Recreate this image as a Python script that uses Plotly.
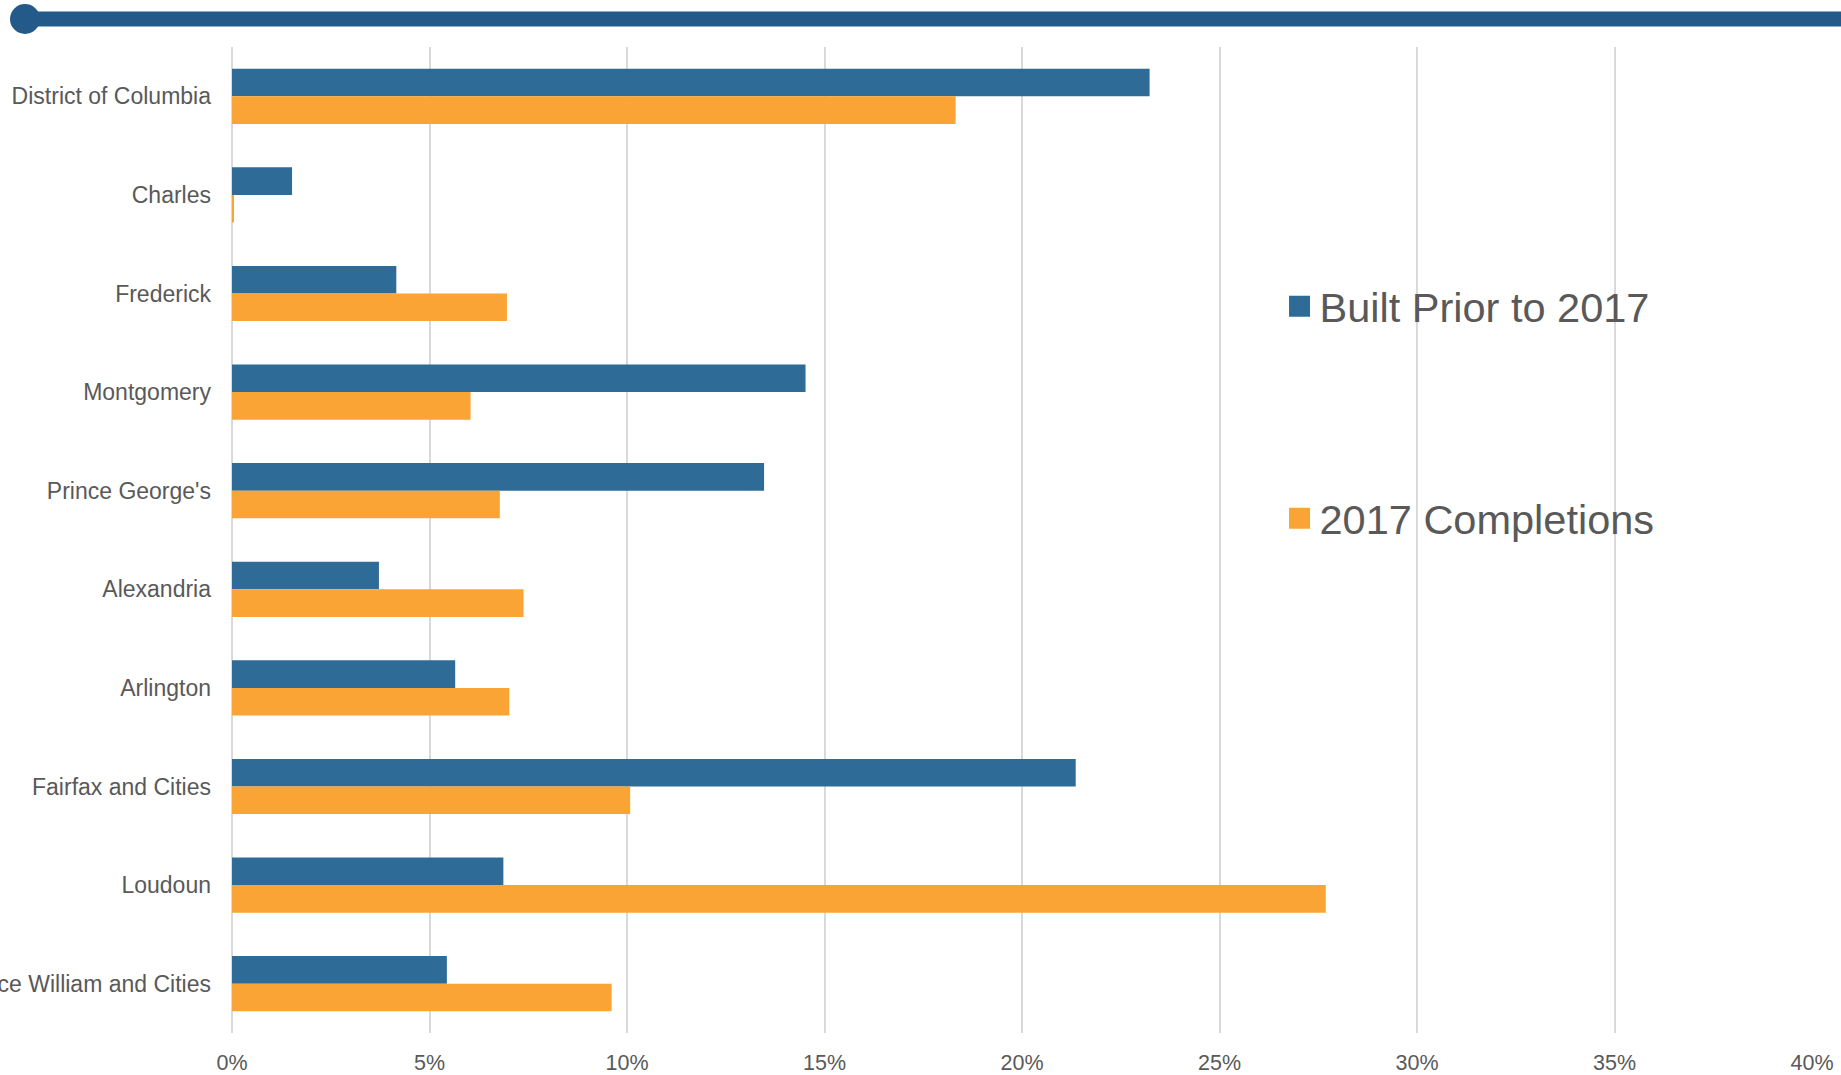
import plotly.graph_objects as go

categories = ["District of Columbia", "Charles", "Frederick", "Montgomery", "Prince George's",
              "Alexandria", "Arlington", "Fairfax and Cities", "Loudoun", "Prince William and Cities"]
built_prior = [23.23, 1.52, 4.16, 14.52, 13.47, 3.72, 5.65, 21.36, 6.87, 5.44]
completions_2017 = [18.32, 0.03, 6.96, 6.04, 6.78, 7.38, 7.02, 10.08, 27.69, 9.61]
series_names = ["Built Prior to 2017", "2017 Completions"]
x_ticks = [0, 5, 10, 15, 20, 25, 30, 35, 40]

BLUE = "#2E6B96"
ORANGE = "#F9A435"
TEXT = "#595959"
FONT = "Liberation Sans"

fig = go.Figure()
fig.add_trace(go.Bar(y=categories, x=built_prior, orientation="h", name=series_names[0],
                     marker=dict(color=BLUE, line=dict(width=0)), showlegend=False))
fig.add_trace(go.Bar(y=categories, x=completions_2017, orientation="h", name=series_names[1],
                     marker=dict(color=ORANGE, line=dict(width=0)), showlegend=False))

# legend-only entries with larger square swatches
for nm, col, grp in [(series_names[0], BLUE, "a"), (series_names[1], ORANGE, "b")]:
    fig.add_trace(go.Scatter(x=[None], y=[None], mode="markers", name=nm, legendgroup=grp,
                             marker=dict(symbol="square", size=16, color=col,
                                         line=dict(color=col, width=5))))

fig.update_layout(
    width=1841, height=1075,
    margin=dict(l=232, r=29, t=47, b=42, autoexpand=False),
    paper_bgcolor="white", plot_bgcolor="white",
    barmode="group", bargap=0.44, bargroupgap=0,
    font=dict(family=FONT, color=TEXT, size=22),
    xaxis=dict(range=[0, 40], tickvals=x_ticks, ticktext=[f"{v}%" for v in x_ticks],
               showgrid=True, gridcolor="#D9D9D9", gridwidth=2,
               zeroline=True, zerolinecolor="#D9D9D9", zerolinewidth=2,
               showline=False, ticks="", ticklabelstandoff=14,
               tickfont=dict(size=21.5, color=TEXT, family=FONT), fixedrange=True),
    yaxis=dict(autorange="reversed", showgrid=False, zeroline=False, showline=False,
               ticks="", ticklabelstandoff=20, automargin=False,
               tickfont=dict(size=23, color=TEXT, family=FONT), fixedrange=True),
    legend=dict(x=0.663, y=0.771, xanchor="left", yanchor="top",
                font=dict(size=41.5, color=TEXT, family=FONT),
                traceorder="grouped", tracegroupgap=155, bgcolor="rgba(0,0,0,0)",
                itemwidth=30),
    shapes=[
        dict(type="line", xref="paper", yref="paper",
             x0=(25 - 232) / 1580, x1=(1841 - 232) / 1580,
             y0=(1033 - 19) / 986, y1=(1033 - 19) / 986,
             line=dict(color="#245A89", width=15)),
        dict(type="circle", xref="paper", yref="paper", xsizemode="pixel", ysizemode="pixel",
             xanchor=(25 - 232) / 1580, yanchor=(1033 - 19) / 986,
             x0=-15, x1=15, y0=-15, y1=15,
             fillcolor="#245A89", line=dict(width=0)),
    ],
)

fig.write_html("out.html", config={"displayModeBar": False},
               post_script="document.body.style.margin='0';document.body.style.overflow='hidden';")
